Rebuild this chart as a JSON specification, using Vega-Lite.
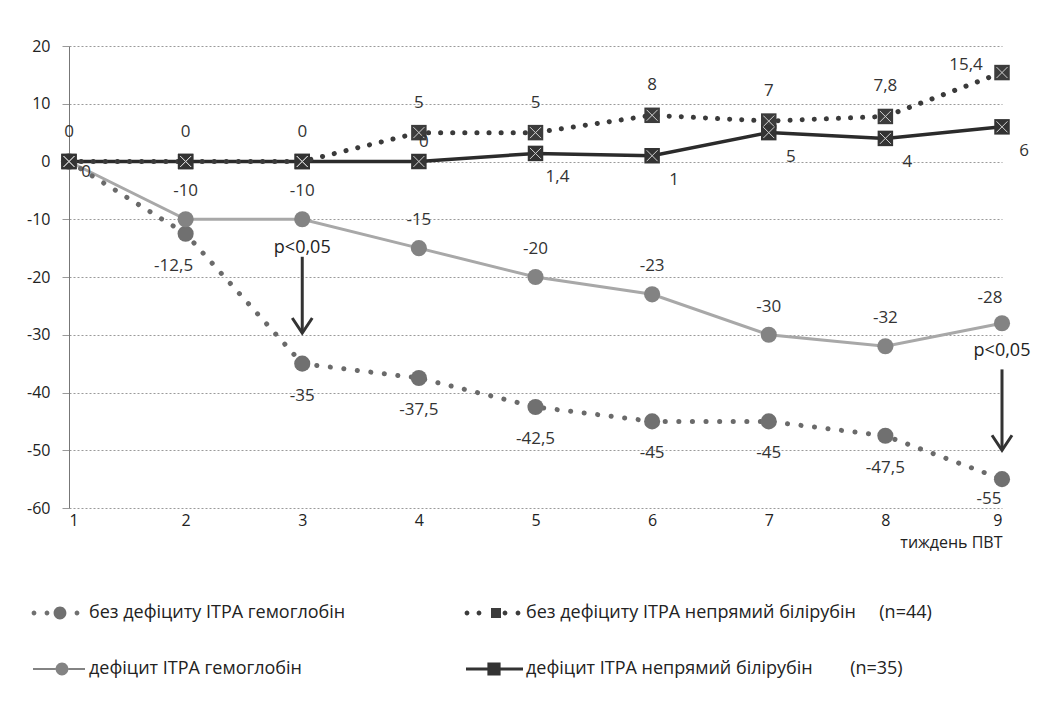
{
  "$schema": "https://vega.github.io/schema/vega-lite/v6.json",
  "width": 933,
  "height": 462,
  "autosize": {"type": "none"},
  "padding": {"left": 69, "top": 46, "right": 59, "bottom": 201},
  "background": "white",
  "config": {
    "font": "Open Sans",
    "view": {"stroke": null},
    "axis": {"labelFontSize": 16, "labelColor": "#222", "titleFontWeight": "normal", "titleFontSize": 16, "titleColor": "#222"},
    "text": {"fontSize": 17, "color": "#333"}
  },
  "datasets": {
    "main": [
      {"week": 1, "series": "без дефіциту ІТРА гемоглобін", "value": 0, "label": ""},
      {"week": 2, "series": "без дефіциту ІТРА гемоглобін", "value": -12.5, "label": "-12,5"},
      {"week": 3, "series": "без дефіциту ІТРА гемоглобін", "value": -35, "label": "-35"},
      {"week": 4, "series": "без дефіциту ІТРА гемоглобін", "value": -37.5, "label": "-37,5"},
      {"week": 5, "series": "без дефіциту ІТРА гемоглобін", "value": -42.5, "label": "-42,5"},
      {"week": 6, "series": "без дефіциту ІТРА гемоглобін", "value": -45, "label": "-45"},
      {"week": 7, "series": "без дефіциту ІТРА гемоглобін", "value": -45, "label": "-45"},
      {"week": 8, "series": "без дефіциту ІТРА гемоглобін", "value": -47.5, "label": "-47,5"},
      {"week": 9, "series": "без дефіциту ІТРА гемоглобін", "value": -55, "label": "-55"},
      {"week": 1, "series": "дефіцит ІТРА гемоглобін", "value": 0, "label": ""},
      {"week": 2, "series": "дефіцит ІТРА гемоглобін", "value": -10, "label": "-10"},
      {"week": 3, "series": "дефіцит ІТРА гемоглобін", "value": -10, "label": "-10"},
      {"week": 4, "series": "дефіцит ІТРА гемоглобін", "value": -15, "label": "-15"},
      {"week": 5, "series": "дефіцит ІТРА гемоглобін", "value": -20, "label": "-20"},
      {"week": 6, "series": "дефіцит ІТРА гемоглобін", "value": -23, "label": "-23"},
      {"week": 7, "series": "дефіцит ІТРА гемоглобін", "value": -30, "label": "-30"},
      {"week": 8, "series": "дефіцит ІТРА гемоглобін", "value": -32, "label": "-32"},
      {"week": 9, "series": "дефіцит ІТРА гемоглобін", "value": -28, "label": "-28"},
      {"week": 1, "series": "без дефіциту ІТРА непрямий білірубін", "value": 0, "label": "0"},
      {"week": 2, "series": "без дефіциту ІТРА непрямий білірубін", "value": 0, "label": "0"},
      {"week": 3, "series": "без дефіциту ІТРА непрямий білірубін", "value": 0, "label": "0"},
      {"week": 4, "series": "без дефіциту ІТРА непрямий білірубін", "value": 5, "label": "5"},
      {"week": 5, "series": "без дефіциту ІТРА непрямий білірубін", "value": 5, "label": "5"},
      {"week": 6, "series": "без дефіциту ІТРА непрямий білірубін", "value": 8, "label": "8"},
      {"week": 7, "series": "без дефіциту ІТРА непрямий білірубін", "value": 7, "label": "7"},
      {"week": 8, "series": "без дефіциту ІТРА непрямий білірубін", "value": 7.8, "label": "7,8"},
      {"week": 9, "series": "без дефіциту ІТРА непрямий білірубін", "value": 15.4, "label": "15,4"},
      {"week": 1, "series": "дефіцит ІТРА непрямий білірубін", "value": 0, "label": "0"},
      {"week": 2, "series": "дефіцит ІТРА непрямий білірубін", "value": 0, "label": ""},
      {"week": 3, "series": "дефіцит ІТРА непрямий білірубін", "value": 0, "label": ""},
      {"week": 4, "series": "дефіцит ІТРА непрямий білірубін", "value": 0, "label": "0"},
      {"week": 5, "series": "дефіцит ІТРА непрямий білірубін", "value": 1.4, "label": "1,4"},
      {"week": 6, "series": "дефіцит ІТРА непрямий білірубін", "value": 1, "label": "1"},
      {"week": 7, "series": "дефіцит ІТРА непрямий білірубін", "value": 5, "label": "5"},
      {"week": 8, "series": "дефіцит ІТРА непрямий білірубін", "value": 4, "label": "4"},
      {"week": 9, "series": "дефіцит ІТРА непрямий білірубін", "value": 6, "label": "6"}
    ],
    "notes": [
      {"week": 3, "top": -16.5, "tip": -29.7, "ty": -15, "note": "p<0,05"},
      {"week": 9, "top": -36, "tip": -50, "ty": -32.8, "note": "p<0,05"}
    ]
  },
  "data": {"name": "main"},
  "encoding": {
    "x": {"field": "week", "type": "quantitative"},
    "y": {"field": "value", "type": "quantitative"}
  },
  "layer": [
    {
      "transform": [{"filter": "datum.series === 'дефіцит ІТРА гемоглобін'"}],
      "mark": {"type": "line", "color": "#a8a8a8", "strokeWidth": 3},
      "encoding": {
        "x": {"field": "week", "type": "quantitative", "scale": {"domain": [1, 9], "nice": false, "zero": false},
          "axis": {"values": [1, 2, 3, 4, 5, 6, 7, 8, 9], "format": "d", "domain": false, "ticks": false, "grid": false, "labelPadding": 4,
            "title": "тиждень ПВТ", "titleAnchor": "end", "titleAlign": "right", "titlePadding": 6}},
        "y": {"field": "value", "type": "quantitative", "scale": {"domain": [-60, 20], "nice": false, "zero": false},
          "axis": {"values": [-60, -50, -40, -30, -20, -10, 0, 10, 20], "title": null, "grid": true, "gridColor": "#9a9a9a", "gridDash": [2, 2], "gridWidth": 1,
            "domain": true, "domainColor": "#777", "ticks": true, "tickSize": 7, "tickColor": "#9a9a9a", "labelPadding": 12,
            "labelExpr": "replace(datum.label, '\u2212', '-')"}}
      }
    },
    {
      "transform": [{"filter": "datum.series === 'без дефіциту ІТРА гемоглобін'"}],
      "mark": {"type": "line", "color": "#6a6a6a", "strokeWidth": 5, "strokeDash": [0.1, 13.5], "strokeCap": "round"}
    },
    {
      "transform": [{"filter": "datum.series === 'дефіцит ІТРА непрямий білірубін'"}],
      "mark": {"type": "line", "color": "#2b2b2b", "strokeWidth": 3.5}
    },
    {
      "transform": [{"filter": "datum.series === 'без дефіциту ІТРА непрямий білірубін'"}],
      "mark": {"type": "line", "color": "#3a3a3a", "strokeWidth": 5, "strokeDash": [0.1, 12], "strokeCap": "round"}
    },
    {
      "transform": [{"filter": "datum.series === 'без дефіциту ІТРА гемоглобін' || datum.series === 'дефіцит ІТРА гемоглобін'"}],
      "mark": {"type": "point", "shape": "circle", "filled": true, "size": 260, "opacity": 1, "strokeWidth": 0},
      "encoding": {
        "fill": {"field": "series", "type": "nominal",
          "scale": {"domain": ["без дефіциту ІТРА гемоглобін", "дефіцит ІТРА гемоглобін", "без дефіциту ІТРА непрямий білірубін", "дефіцит ІТРА непрямий білірубін"],
            "range": ["#707070", "#838383", "#3c3c3c", "#333333"]},
          "legend": {
            "title": null, "orient": "none", "legendX": -32, "legendY": 547, "columns": 2, "columnPadding": 118, "rowPadding": 27,
            "symbolSize": 1600, "symbolStrokeWidth": 0, "symbolOpacity": 1, "labelOffset": 12, "labelFontSize": 18, "labelColor": "#222", "labelLimit": 0, "padding": 0,
            "labelExpr": "datum.label === 'без дефіциту ІТРА непрямий білірубін' ? datum.label + '\u00a0\u00a0\u00a0\u00a0\u00a0(n=44)' : datum.label === 'дефіцит ІТРА непрямий білірубін' ? datum.label + '\u00a0\u00a0\u00a0\u00a0\u00a0\u00a0\u00a0\u00a0(n=35)' : datum.label"
          }}
      }
    },
    {
      "transform": [{"filter": "datum.series === 'без дефіциту ІТРА непрямий білірубін' || datum.series === 'дефіцит ІТРА непрямий білірубін'"}],
      "mark": {"type": "point", "shape": "square", "filled": true, "size": 240, "opacity": 1, "strokeWidth": 0},
      "encoding": {
        "fill": {"field": "series", "type": "nominal"}
      }
    },
    {
      "mark": {"type": "point", "filled": true, "size": 0, "strokeWidth": 0},
      "encoding": {
        "fill": {"field": "series", "type": "nominal"},
        "shape": {"field": "series", "type": "nominal",
          "scale": {"domain": ["без дефіциту ІТРА гемоглобін", "дефіцит ІТРА гемоглобін", "без дефіциту ІТРА непрямий білірубін", "дефіцит ІТРА непрямий білірубін"],
            "range": [
              "M-1.27,0a0.12,0.12 0 1,0 0.24,0a0.12,0.12 0 1,0 -0.24,0Z M-0.62,0a0.12,0.12 0 1,0 0.24,0a0.12,0.12 0 1,0 -0.24,0Z M-0.17,0a0.32,0.32 0 1,0 0.64,0a0.32,0.32 0 1,0 -0.64,0Z M0.88,0a0.12,0.12 0 1,0 0.24,0a0.12,0.12 0 1,0 -0.24,0Z",
              "M-1.2,-0.05H-0.07V0.05H-1.2Z M0.57,-0.05H1.4V0.05H0.57Z M-0.07,0a0.32,0.32 0 1,0 0.64,0a0.32,0.32 0 1,0 -0.64,0Z",
              "M-1.47,0a0.12,0.12 0 1,0 0.24,0a0.12,0.12 0 1,0 -0.24,0Z M-0.87,0a0.12,0.12 0 1,0 0.24,0a0.12,0.12 0 1,0 -0.24,0Z M-0.15,-0.25H0.35V0.25H-0.15Z M0.43,0a0.12,0.12 0 1,0 0.24,0a0.12,0.12 0 1,0 -0.24,0Z M1.08,0a0.12,0.12 0 1,0 0.24,0a0.12,0.12 0 1,0 -0.24,0Z",
              "M-1.4,-0.07H-0.33V0.07H-1.4Z M0.33,-0.07H1.45V0.07H0.33Z M-0.33,-0.33H0.33V0.33H-0.33Z"
            ]}}
      }
    },
    {
      "transform": [{"filter": "datum.series === 'без дефіциту ІТРА непрямий білірубін' || datum.series === 'дефіцит ІТРА непрямий білірубін'"}],
      "mark": {"type": "point", "shape": "M-1,-1L1,1M-1,1L1,-1", "filled": false, "size": 120, "stroke": "#d0d0d0", "strokeWidth": 1, "opacity": 1}
    },
    {
      "transform": [{"filter": "datum.series === 'без дефіциту ІТРА гемоглобін' && datum.week >= 3 && datum.week <= 8"}],
      "mark": {"type": "text", "dy": 32},
      "encoding": {"text": {"field": "label"}}
    },
    {
      "transform": [{"filter": "datum.series === 'без дефіциту ІТРА гемоглобін' && datum.week === 2"}],
      "mark": {"type": "text", "dx": -12, "dy": 32},
      "encoding": {"text": {"field": "label"}}
    },
    {
      "transform": [{"filter": "datum.series === 'без дефіциту ІТРА гемоглобін' && datum.week === 9"}],
      "mark": {"type": "text", "dx": -13, "dy": 20},
      "encoding": {"text": {"field": "label"}}
    },
    {
      "transform": [{"filter": "datum.series === 'дефіцит ІТРА гемоглобін' && datum.week < 9"}],
      "mark": {"type": "text", "dy": -28},
      "encoding": {"text": {"field": "label"}}
    },
    {
      "transform": [{"filter": "datum.series === 'дефіцит ІТРА гемоглобін' && datum.week === 9"}],
      "mark": {"type": "text", "dx": -12, "dy": -25},
      "encoding": {"text": {"field": "label"}}
    },
    {
      "transform": [{"filter": "datum.series === 'без дефіциту ІТРА непрямий білірубін' && datum.week < 9"}],
      "mark": {"type": "text", "dy": -30},
      "encoding": {"text": {"field": "label"}}
    },
    {
      "transform": [{"filter": "datum.series === 'без дефіциту ІТРА непрямий білірубін' && datum.week === 9"}],
      "mark": {"type": "text", "dx": -36, "dy": -8},
      "encoding": {"text": {"field": "label"}}
    },
    {
      "transform": [{"filter": "datum.series === 'дефіцит ІТРА непрямий білірубін' && datum.week >= 5"}],
      "mark": {"type": "text", "dx": 22, "dy": 24},
      "encoding": {"text": {"field": "label"}}
    },
    {
      "transform": [{"filter": "datum.series === 'дефіцит ІТРА непрямий білірубін' && datum.week === 1"}],
      "mark": {"type": "text", "dx": 17, "dy": 10},
      "encoding": {"text": {"field": "label"}}
    },
    {
      "transform": [{"filter": "datum.series === 'дефіцит ІТРА непрямий білірубін' && datum.week === 4"}],
      "mark": {"type": "text", "dx": 5, "dy": -20},
      "encoding": {"text": {"field": "label"}}
    },
    {
      "data": {"name": "notes"},
      "mark": {"type": "rule", "color": "#333", "strokeWidth": 3},
      "encoding": {
        "x": {"field": "week", "type": "quantitative"},
        "y": {"field": "top", "type": "quantitative"},
        "y2": {"field": "tip"}
      }
    },
    {
      "data": {"name": "notes"},
      "mark": {"type": "point", "shape": "M-1,-1.5L0,0L1,-1.5", "filled": false, "size": 400, "stroke": "#333", "strokeWidth": 3, "opacity": 1},
      "encoding": {
        "x": {"field": "week", "type": "quantitative"},
        "y": {"field": "tip", "type": "quantitative"}
      }
    },
    {
      "data": {"name": "notes"},
      "mark": {"type": "text", "fontSize": 18, "color": "#222"},
      "encoding": {
        "x": {"field": "week", "type": "quantitative"},
        "y": {"field": "ty", "type": "quantitative"},
        "text": {"field": "note"}
      }
    }
  ]
}
